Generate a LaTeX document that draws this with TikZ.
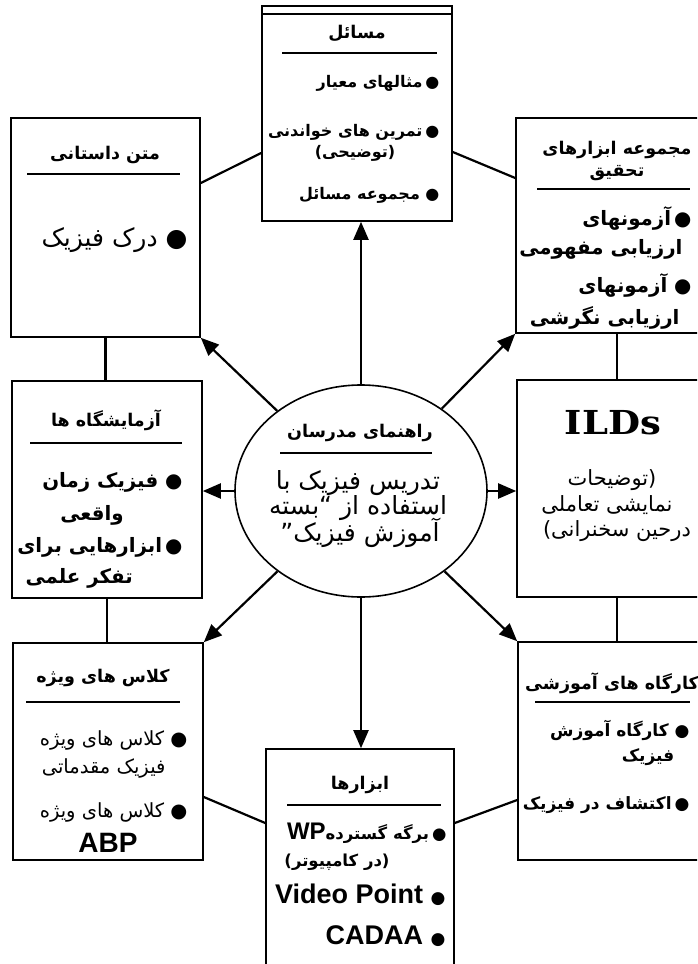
\documentclass[tikz,border=0pt]{standalone}
\usepackage{fontspec}
\usepackage{tikz}
\usetikzlibrary{arrows.meta,shapes.geometric}
\newfontfamily\fafont[Script=Arabic]{DejaVu Sans}
\newfontfamily\parfont{DejaVu Sans}
\newfontfamily\latfont{Liberation Sans}
\newfontfamily\ildfont[FakeStretch=1.12]{DejaVu Serif}
\TeXXeTstate=1
\newcommand{\fa}[1]{\beginR#1\endR}
\newcommand{\la}[1]{\beginL#1\endL}
\newcommand{\blt}{●\kern3pt}
\newcommand{\lp}{{\parfont(}}
\newcommand{\rp}{{\parfont)}}
\tikzset{
  box/.style={draw, line width=1.6pt, inner sep=0pt},
  arr/.style={line width=2.2pt, -{Triangle[length=18pt,width=15pt]}},
  wire/.style={line width=2.2pt},
  rule/.style={line width=1.8pt},
  head/.style={font=\fafont\bfseries\fontsize{17.5}{22}\selectfont},
  item/.style={font=\fafont\bfseries\fontsize{19.8}{24}\selectfont},
  kitem/.style={font=\fafont\bfseries\fontsize{17}{22}\selectfont},
  thin/.style={font=\fafont\fontsize{21}{24}\selectfont},
  big/.style={font=\fafont\fontsize{25}{28}\selectfont},
  thinsmall/.style={font=\fafont\fontsize{19.5}{22}\selectfont},
  small/.style={font=\fafont\bfseries\fontsize{16}{18}\selectfont},
  tool/.style={font=\fafont\bfseries\fontsize{16.5}{18}\selectfont},
  latin/.style={font=\latfont\bfseries\fontsize{27}{30}\selectfont},
}
\newcommand{\sbul}{{\fafont\fontsize{17}{18}\selectfont ●}}

\begin{document}
\begin{tikzpicture}[x=1pt, y=-1pt]

        \def\W{697}
        \def\H{964}
        \useasboundingbox (0,0) rectangle (\W,\H);
        \clip (0,0) rectangle (\W,\H);
%        \draw[style=help lines, step=10] (0,0) grid (\W,\H);

        \node[box, minimum width=190pt, minimum height=215pt] (masael) at (357,113.5) {};
        \node[box, minimum width=189pt, minimum height=219pt] (dastan) at (105.5,227.5) {};
        \node[box, minimum width=202pt, minimum height=215pt] (tahqiq) at (617,225.5) {};
        \node[box, minimum width=190pt, minimum height=217pt] (azmayesh) at (107,489.5) {};
        \node[box, minimum width=200pt, minimum height=217pt] (ilds) at (617,488.5) {};
        \node[box, minimum width=190pt, minimum height=217pt] (vizhe) at (108,751.5) {};
        \node[box, minimum width=198pt, minimum height=218pt] (kargah) at (617,751) {};
        \node[box, minimum width=188pt, minimum height=226pt] (abzar) at (360,862) {};
        \node[box, ellipse, minimum width=252pt, minimum height=212pt] (guide) at (361,491) {};
        \draw[line width=1.6pt] (masael.north west) ++(0,9) -- ++(190,0);

        % masael
        \node[head] (masaelT) at (357,33) {\fa{مسائل}};
        \draw[rule] (282,53) -- (437,53);
        \node[small, anchor=east] (masael1) at (443,83) {\fa{\blt مثالهای معیار}};
        \node[small, anchor=east] (masael2) at (443,132) {\fa{\blt تمرین های خواندنی}};
        \node[small] (masael3) at (355,153) {\lp\fa{توضیحی}\rp};
        \node[small, anchor=east] (masael4) at (443,195) {\fa{● مجموعه مسائل}};

        % dastan
        \node[head] (dastanT) at (105,155) {\fa{متن داستانی}};
        \draw[rule] (27,174) -- (180,174);
        \node[big, anchor=east] (dastan1) at (191,240) {\fa{● درک فیزیک}};

        % tahqiq
        \node[head, align=center] (tahqiqT) at (617,161) {\fa{مجموعه ابزارهای}\\\fa{تحقیق}};
        \draw[rule] (537,189) -- (690,189);
        \node[item, anchor=east] (tahqiq1) at (695,218) {\fa{\blt آزمونهای}};
        \node[item, anchor=east] (tahqiq2) at (686,249) {\fa{ارزیابی مفهومی}};
        \node[item, anchor=east] (tahqiq3) at (695,285) {\fa{● آزمونهای}};
        \node[item, anchor=east] (tahqiq4) at (683,318) {\fa{ارزیابی نگرشی}};

        % azmayesh
        \node[head] (azmayeshT) at (106,420) {\fa{آزمایشگاه ها}};
        \draw[rule] (30,443) -- (182,443);
        \node[item, anchor=east] (azmayesh1) at (186,482) {\fa{● فیزیک زمان}};
        \node[item] (azmayesh2) at (92,515) {\fa{واقعی}};
        \node[item, anchor=east] (azmayesh3) at (186,547) {\fa{\blt ابزارهایی برای}};
        \node[item, anchor=west] (azmayesh4) at (22,578) {\fa{تفکر علمی}};

        % guide
        \node[head] (guideT) at (360,433) {\fa{راهنمای مدرسان}};
        \draw[rule] (280,453) -- (432,453);
        \node[big] (guide1) at (358,483) {\fa{تدریس فیزیک با}};
        \node[big] (guide2) at (358,508) {\fa{استفاده از “\kern0ptبسته}};
        \node[big] (guide3) at (360,533) {\fa{آموزش فیزیک\kern0pt”}};

        % ilds
        \node[font=\ildfont\bfseries\fontsize{33}{36}\selectfont] (ildsT) at (613,423) {ILDs};
        \node[thin] (ilds1) at (612,480) {\fa{توضیحات}\rp};
        \node[thin] (ilds2) at (607,505) {\fa{نمایشی تعاملی}};
        \node[thin] (ilds3) at (617,531) {\lp\fa{درحین سخنرانی}};

        % vizhe
        \node[head] (vizheT) at (103,678) {\fa{کلاس های ویژه}};
        \draw[rule] (26,702) -- (180,702);
        \node[thinsmall, anchor=east] (vizhe1) at (191,740) {\fa{● کلاس های ویژه}};
        \node[thinsmall, anchor=east] (vizhe2) at (169,768) {\fa{فیزیک مقدماتی}};
        \node[thinsmall, anchor=east] (vizhe3) at (191,812) {\fa{● کلاس های ویژه}};
        \node[latin, font=\latfont\bfseries\fontsize{28}{30}\selectfont] (vizhe4) at (108,843) {ABP};

        % kargah
        \node[head] (kargahT) at (612,683) {\fa{کارگاه های آموزشی}};
        \draw[rule] (535,702) -- (690,702);
        \node[kitem, anchor=east] (kargah1) at (693,730) {\fa{● کارگاه آموزش}};
        \node[kitem] (kargah2) at (648,757) {\fa{فیزیک}};
        \node[kitem, anchor=east] (kargah3) at (693,805) {\fa{\blt اکتشاف در فیزیک}};

        % abzar
        \node[head] (abzarT) at (360,785) {\fa{ابزارها}};
        \draw[rule] (287,805) -- (441,805);
        \node[tool, anchor=east] (abzar1) at (450,833) {\fa{\blt برگه گسترده\la{\latfont\fontsize{24}{26}\selectfont WP}}};
        \node[tool] (abzar2) at (337,862) {\lp\fa{در کامپیوتر}\rp};
        \node[latin, anchor=east] (abzar3) at (449,895) {Video Point \sbul};
        \node[latin, anchor=east] (abzar4) at (449,936) {CADAA \sbul};

        \draw[wire] (dastan.south) -- (dastan.south |- azmayesh.north);
        \draw[wire] (azmayesh.south) -- (azmayesh.south |- vizhe.north);
        \draw[wire] (tahqiq.south) -- (ilds.north);
        \draw[wire] (ilds.south) -- (kargah.north);
        \draw[wire] (dastan.east |- 0,183) -- (masael.west |- 0,153);
        \draw[wire] (masael.east |- 0,152) -- (tahqiq.west |- 0,178);
        \draw[wire] (vizhe.east |- 0,797) -- (abzar.west |- 0,823);
        \draw[wire] (abzar.east |- 0,823) -- (kargah.west |- 0,800);

        \draw[arr] (guide.north) -- (guide.north |- masael.south);
        \draw[arr] (guide) -- (dastan.south east);
        \draw[arr] (guide) -- (tahqiq.south west);
        \draw[arr] (guide.west) -- (guide.west -| azmayesh.east);
        \draw[arr] (guide.east) -- (guide.east -| ilds.west);
        \draw[arr] (guide) -- (vizhe.north east);
        \draw[arr] (guide) -- (kargah.north west);
        \draw[arr] (guide.south) -- (guide.south |- abzar.north);

\end{tikzpicture}
\end{document}
